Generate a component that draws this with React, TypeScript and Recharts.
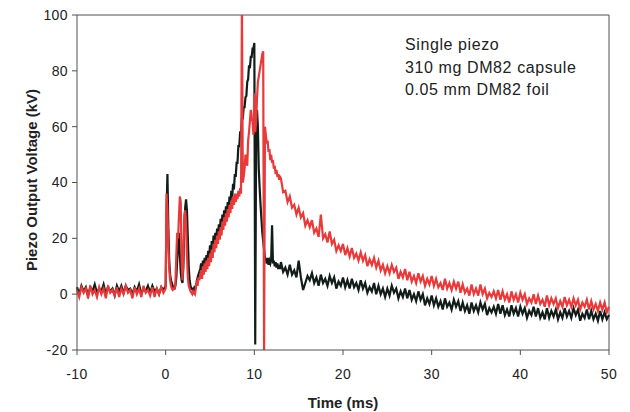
import { LineChart, Line, XAxis, YAxis, ReferenceLine } from "recharts";

// trace sampling: each segment has its own start time and step (ms)
const baseStart = -10;
const baseStep = 0.25;
const burstStart = 0;
const burstStep = 0.1;
const tailStart = 13;
const tailStep = 0.25;

// -10 .. -0.25 ms, quiet before the discharge
const baseBlack = [
  2.5, 0, 3, 1, 2.5, -0.5, 2.5, 1, 3.5, 0.5, 2, 1, 3.5, 0, 2.5, 1, 2, -0.5, 3, 1,
  3, 0.5, 3, 1.5, 2, 0, 2.5, 1, 3.5, 0, 2, 1, 3, 0.5, 3, 1, 2, 0, 2.5, 1.5,
];
const baseRed = [
  1.5, -1, 2.5, 0.5, 2, -1.5, 3, 0, 1.5, -1, 2.5, 0, 2, -1.5, 3, 0.5, 1.5, -0.5, 2.5, -1,
  2, 0, 3, 0.5, 1.5, -1.5, 2.5, 0, 2, -1, 3, 0.5, 1.5, -0.5, 2.5, -1, 2, 0, 2.5, 0.5,
];

// 0 .. 12.9 ms, precursor spikes and main pulse
const burstBlack = [
  3, 30, 43, 24, 12, 7, 5, 4, 3, 2,
  2, 3, 6, 12, 18, 22, 14, 8, 5, 4,
  10, 24, 31, 34, 30, 20, 10, 5, 3, 2,
  2, 1, 2, 1, 3, 4, 6, 7, 8, 9,
  11, 8.5, 12, 10, 13, 10.5, 14, 12, 15.5, 13,
  17.5, 14.5, 19, 16, 21, 18, 22, 19, 23.5, 21,
  25, 22, 27, 24, 28.5, 25.5, 30, 27.5, 31.5, 29,
  33, 30.5, 35, 32.5, 37, 34.5, 39.5, 37.5, 43, 42,
  47, 47, 53, 53, 58, 58, 63, 63, 67, 67,
  70.5, 71, 76, 77, 82, 81, 85, 85, 88, 88,
  90, -18, 55, 66, 60, 45, 38, 32, 27, 22,
  19, 16, 13, 12.5, 11, 13, 10.5, 12, 11, 12.5,
  24.7, 11, 12, 10, 11.5, 9.5, 11, 9, 10.5, 9,
];
const burstRed = [
  2, 36, 30, 18, 9, 5, 3, 2, 1.5, 2,
  2, 4, 14, 22, 20, 28, 35, 33, 12, 5,
  14, 28, 30, 25, 14, 6, 3, 2, 1, 0.5,
  0, 1, 0.5, 0, 2, 5, 3, 6, 5, 7,
  8.5, 5.5, 10, 7, 11, 8, 12, 9, 13, 10,
  14.5, 11.5, 16, 13, 18, 15, 19.5, 16.5, 21, 18,
  22.5, 19.5, 24, 21, 26, 23, 27.5, 24.5, 29, 26,
  30.5, 27.5, 32, 29, 33.5, 30.5, 35, 32, 36, 33,
  36, 34, 37, 35, 38, 36, 104, 40, 42, 45,
  50, 47, 46, 55, 58, 62, 66, 63, 62, 57,
  72, 58, 62, 70, 76, 78, 80, 82, 84, 86,
  87, -22, 60, 57, 54, 55, 51, 52, 48, 50,
  47, 48, 45, 46, 43, 44.5, 42, 43, 41, 42,
];

// 13 .. 50 ms, decay
const tailBlack = [
  11.5, 8, 9.5, 7, 10.5, 7, 8.5, 6, 12, 6, 1.5, 4, 6.5, 5, 7.5, 4,
  6, 3, 7, 4, 5.5, 3, 6.5, 4, 6, 2, 4.5, 3, 6, 2.5, 5, 2,
  5.5, 2.5, 4, 1.5, 5, 2, 4, 0.5, 2.5, 1, 4, 0, 3, 0, 2, -1,
  2, -0.5, 3, 0.5, 2, -1.5, 1, -1, 2, -1.5, 1.5, -2, 0, -2.5, 1, -2,
  0, -4, -1.5, -3.5, -0.5, -4, -1.5, -4.5, -2.5, -5.5, -1.5, -4.5, -3, -5.5, -2, -4.5,
  -2.5, -6, -3, -6, -4, -7, -3, -6, -4, -6.5, -3, -5.5, -3.5, -7.5, -5, -6.5,
  -4.5, -7, -3.5, -7, -4, -7.5, -5.5, -8, -4, -7, -5, -8, -4.5, -7, -5, -8.5,
  -6, -7.5, -4.5, -8, -5, -8.5, -6.5, -9, -5, -8.5, -6, -8, -5.5, -9, -6.5, -8.5,
  -5, -8, -6, -8.5, -5, -7.5, -5.5, -9.5, -7, -8.5, -5.5, -9, -6, -9, -7, -9.5,
  -6, -9, -6.5, -9, -7.5,
];
const tailRed = [
  41.5, 36.5, 37, 33, 35, 31, 32, 28.5, 31, 27.5, 29, 24.5, 26.5, 24, 26.5, 22,
  23.5, 20.5, 28.5, 20, 21.5, 18.5, 22.5, 18, 19.5, 15.5, 17.5, 15.5, 18, 14, 16.5, 13.5,
  16.5, 13, 14.5, 12, 15, 12, 14, 10, 12.5, 10.5, 13, 9.5, 12, 8.5, 10.5, 7.5,
  10, 7.5, 10.5, 8, 9.5, 5.5, 8, 6, 9, 5, 8, 4.5, 6.5, 4, 7.5, 4.5,
  6.5, 3, 5.5, 3.5, 6.5, 3, 5.5, 2.5, 4, 1.5, 5.5, 2, 4, 1.5, 4.5, 2,
  4.5, 0.5, 3.5, 0.5, 2, -0.5, 3.5, 0, 2, -0.5, 3.5, 0, 2, -1.5, 0.5, -1,
  1, -1.5, 1.5, -2, 1, -2, 0, -3, 1, -2, 0, -3, 0.5, -2, 0, -3.5,
  -1.5, -3, 0, -3.5, -0.5, -3.5, -2, -4.5, -0.5, -4, -1.5, -3.5, -1.5, -5, -2.5, -4.5,
  -1, -4, -2, -4.5, -1.5, -4, -2, -5.5, -3, -4.5, -2, -5.5, -2.5, -5.5, -3.5, -6,
  -3, -5.5, -3, -6.5, -4.5,
];

const xTicks = [-10, 0, 10, 20, 30, 40, 50];
const yTicks = [-20, 0, 20, 40, 60, 80, 100];
const notes = ["Single piezo", "310 mg DM82 capsule", "0.05 mm DM82 foil"];

type Row = { t: number; black: number; red: number };

const segment = (start: number, step: number, black: number[], red: number[]): Row[] =>
  black.map((b, i) => ({ t: +(start + i * step).toFixed(2), black: b, red: red[i] }));

const data: Row[] = [
  ...segment(baseStart, baseStep, baseBlack, baseRed),
  ...segment(burstStart, burstStep, burstBlack, burstRed),
  ...segment(tailStart, tailStep, tailBlack, tailRed),
];

const font = "'Liberation Sans', Arial, sans-serif";
const axisColor = "#505050";
const tickStyle = { fill: "#222", fontSize: 14, fontFamily: font, letterSpacing: 0.4 };

export default function App() {
  return (
    <div style={{ position: "absolute", left: 0, top: 0, width: 630, height: 412, background: "#fff", fontFamily: font }}>
      <LineChart width={630} height={412} data={data} margin={{ top: 15, right: 21, left: 17, bottom: 32 }}>
        <XAxis
          dataKey="t"
          type="number"
          domain={[-10, 50]}
          ticks={xTicks}
          stroke={axisColor}
          tickSize={5}
          tickMargin={14}
          height={30}
          tick={tickStyle}
        />
        <YAxis
          type="number"
          domain={[-20, 100]}
          ticks={yTicks}
          allowDataOverflow
          stroke={axisColor}
          tickSize={5}
          tickMargin={4}
          width={60}
          tick={tickStyle}
        />
        <ReferenceLine y={100} stroke={axisColor} />
        <ReferenceLine x={50} stroke={axisColor} />
        <Line
          dataKey="black"
          stroke="#121c19"
          strokeWidth={2.2}
          dot={false}
          type="linear"
          isAnimationActive={false}
        />
        <Line
          dataKey="red"
          stroke="#e83a3a"
          strokeWidth={2.2}
          dot={false}
          type="linear"
          isAnimationActive={false}
        />
      </LineChart>

      <div style={{ position: "absolute", left: 405, top: 34, fontSize: 16, lineHeight: "22.5px", letterSpacing: 0.6, color: "#222" }}>
        {notes.map((n) => (
          <div key={n}>{n}</div>
        ))}
      </div>

      <div style={{ position: "absolute", left: 343, top: 402, transform: "translate(-50%, -50%)", fontSize: 15, fontWeight: 700, color: "#222", whiteSpace: "nowrap" }}>
        Time (ms)
      </div>
      <div style={{ position: "absolute", left: 31, top: 180, transform: "translate(-50%, -50%) rotate(-90deg)", fontSize: 15, fontWeight: 700, color: "#222", whiteSpace: "nowrap" }}>
        Piezo Output Voltage (kV)
      </div>
    </div>
  );
}
